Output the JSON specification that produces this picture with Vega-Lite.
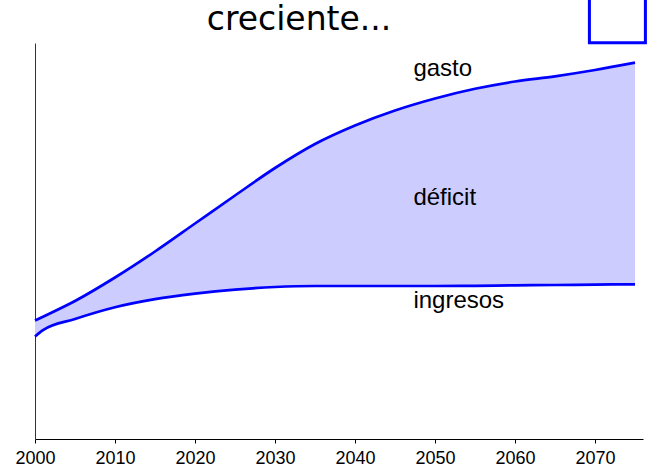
{
  "$schema": "https://vega.github.io/schema/vega-lite/v6.json",
  "width": 608,
  "height": 396,
  "autosize": "none",
  "padding": {"left": 35, "top": 43, "right": 4, "bottom": 29},
  "background": "white",
  "title": {
    "text": "creciente...",
    "font": "DejaVu Sans",
    "fontSize": 33,
    "fontWeight": "normal",
    "color": "black",
    "anchor": "middle",
    "frame": "group",
    "baseline": "alphabetic",
    "offset": 0,
    "dy": 66,
    "dx": -40
  },
  "config": {
    "view": {"stroke": null},
    "axis": {"grid": false}
  },
  "datasets": {
    "series": [
      {"year": 2000, "gasto": 11.85, "ingresos": 10.25},
      {"year": 2001, "gasto": 12.23, "ingresos": 10.89},
      {"year": 2005, "gasto": 13.8, "ingresos": 12.0},
      {"year": 2010, "gasto": 16.15, "ingresos": 13.17},
      {"year": 2015, "gasto": 18.75, "ingresos": 13.98},
      {"year": 2020, "gasto": 21.55, "ingresos": 14.53},
      {"year": 2025, "gasto": 24.35, "ingresos": 14.94},
      {"year": 2030, "gasto": 27.1, "ingresos": 15.2},
      {"year": 2035, "gasto": 29.5, "ingresos": 15.3},
      {"year": 2040, "gasto": 31.35, "ingresos": 15.3},
      {"year": 2045, "gasto": 32.85, "ingresos": 15.3},
      {"year": 2050, "gasto": 34.05, "ingresos": 15.3},
      {"year": 2055, "gasto": 35.02, "ingresos": 15.32},
      {"year": 2060, "gasto": 35.75, "ingresos": 15.37},
      {"year": 2065, "gasto": 36.27, "ingresos": 15.4},
      {"year": 2070, "gasto": 36.9, "ingresos": 15.44},
      {"year": 2075, "gasto": 37.63, "ingresos": 15.47}
    ],
    "labels": [
      {"label": "gasto", "year": 2047.3, "value": 36.33},
      {"label": "déficit", "year": 2047.3, "value": 23.4},
      {"label": "ingresos", "year": 2047.3, "value": 13.07}
    ],
    "box": [
      {"x1": 2069.3, "x2": 2076.3, "y1": 39.62, "y2": 44.1}
    ]
  },
  "layer": [
    {
      "data": {"name": "series"},
      "mark": {"type": "area", "color": "#CCCCFF", "opacity": 1, "interpolate": "monotone"},
      "encoding": {
        "x": {
          "field": "year", "type": "quantitative",
          "scale": {"domain": [2000, 2076], "nice": false, "zero": false},
          "axis": {
            "title": null,
            "values": [2000, 2010, 2020, 2030, 2040, 2050, 2060, 2070],
            "format": "d",
            "labelFont": "Liberation Sans",
            "labelFontSize": 18,
            "labelColor": "black",
            "labelPadding": 6,
            "labelFlush": false,
            "labelOverlap": false,
            "domainColor": "black",
            "domainWidth": 1,
            "tickColor": "black",
            "tickSize": 4,
            "tickWidth": 1
          }
        },
        "y": {
          "field": "gasto", "type": "quantitative",
          "scale": {"domain": [0, 39.6], "nice": false, "zero": false},
          "axis": {
            "title": null,
            "labels": false,
            "ticks": false,
            "domainColor": "#333333",
            "domainWidth": 1
          }
        },
        "y2": {"field": "ingresos"}
      }
    },
    {
      "data": {"name": "series"},
      "mark": {"type": "line", "color": "#0000FF", "strokeWidth": 2.7, "interpolate": "monotone"},
      "encoding": {
        "x": {"field": "year", "type": "quantitative"},
        "y": {"field": "gasto", "type": "quantitative"}
      }
    },
    {
      "data": {"name": "series"},
      "mark": {"type": "line", "color": "#0000FF", "strokeWidth": 2.7, "interpolate": "monotone"},
      "encoding": {
        "x": {"field": "year", "type": "quantitative"},
        "y": {"field": "ingresos", "type": "quantitative"}
      }
    },
    {
      "data": {"name": "labels"},
      "mark": {"type": "text", "align": "left", "baseline": "alphabetic", "font": "Liberation Sans", "fontSize": 24, "color": "black"},
      "encoding": {
        "x": {"field": "year", "type": "quantitative"},
        "y": {"field": "value", "type": "quantitative"},
        "text": {"field": "label"}
      }
    },
    {
      "data": {"name": "box"},
      "mark": {"type": "rect", "fill": "white", "fillOpacity": 0, "stroke": "#0000FF", "strokeWidth": 3, "clip": false},
      "encoding": {
        "x": {"field": "x1", "type": "quantitative"},
        "x2": {"field": "x2"},
        "y": {"field": "y1", "type": "quantitative"},
        "y2": {"field": "y2"}
      }
    }
  ]
}
